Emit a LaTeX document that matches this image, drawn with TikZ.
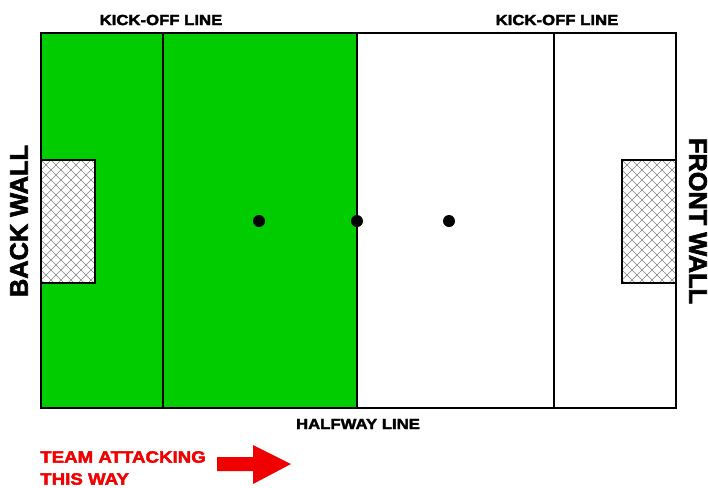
\documentclass[tikz,border=0pt]{standalone}
\usepackage{fontspec}
\setmainfont{Liberation Sans}
\newfontfamily\heavy{Liberation Sans Bold}[FakeStretch=1.14,FakeBold=2.5]
\newfontfamily\heavywall{Liberation Sans Bold}[FakeStretch=1.0,FakeBold=2.5]
\definecolor{pitchgreen}{RGB}{0,204,0}
\definecolor{arrowred}{RGB}{240,0,0}
\definecolor{netgray}{RGB}{130,130,130}
\tikzset{
  fieldline/.style={line width=1.6pt, black},
  lbl/.style={font=\heavy\fontsize{11}{13}\selectfont, inner sep=0pt},
  wall/.style={font=\heavywall\fontsize{19}{22}\selectfont, inner sep=0pt},
  redlbl/.style={font=\heavy\fontsize{12.3}{15}\selectfont, text=arrowred, inner sep=0pt, anchor=west},
  spot/.style={circle, fill=black, minimum size=9pt, inner sep=0pt},
}
\begin{document}
\begin{tikzpicture}[x=0.75pt,y=-0.75pt]
\useasboundingbox (0,0) rectangle (708,487);
% pitch
\fill[pitchgreen] (41,33) rectangle (357,408);
\fill[white] (357,33) rectangle (676,408);
% goals with net
\foreach \gx in {41,622}{
  \begin{scope}
    \clip (\gx,160) rectangle (\gx+54,283);
    \fill[white] (\gx,160) rectangle (\gx+54,283);
    \foreach \k in {-140,-130,...,200}{
      \draw[netgray, line width=0.5pt] (\gx+\k,160) -- (\gx+\k+130,290);
      \draw[netgray, line width=0.5pt] (\gx+\k,160) -- (\gx+\k-130,290);
    }
  \end{scope}
  \draw[line width=1.5pt] (\gx,160) rectangle (\gx+54,283);
}
% lines
\draw[fieldline] (41,33) rectangle (676,408);
\draw[fieldline] (163,33) -- (163,408);
\draw[fieldline] (357,33) -- (357,408);
\draw[fieldline] (554,33) -- (554,408);
% spots
\node[spot] (s1) at (259,221) {};
\node[spot] (s2) at (357,221) {};
\node[spot] (s3) at (449,221) {};
% labels
\node[lbl] (k1) at (161,20) {KICK-OFF LINE};
\node[lbl] (k2) at (557,20) {KICK-OFF LINE};
\node[lbl] (hw) at (358,424) {HALFWAY LINE};
\node[wall, rotate=90] (bw) at (19,221) {BACK WALL};
\node[wall, rotate=-90] (fw) at (698,221) {FRONT WALL};
\node[redlbl] (t1) at (40,457) {TEAM ATTACKING};
\node[redlbl] (t2) at (40,479) {THIS WAY};
% arrow
\fill[arrowred] (217,457) -- (253,457) -- (253,445) -- (291,464) -- (253,484) -- (253,471) -- (217,471) -- cycle;
\end{tikzpicture}
\end{document}
